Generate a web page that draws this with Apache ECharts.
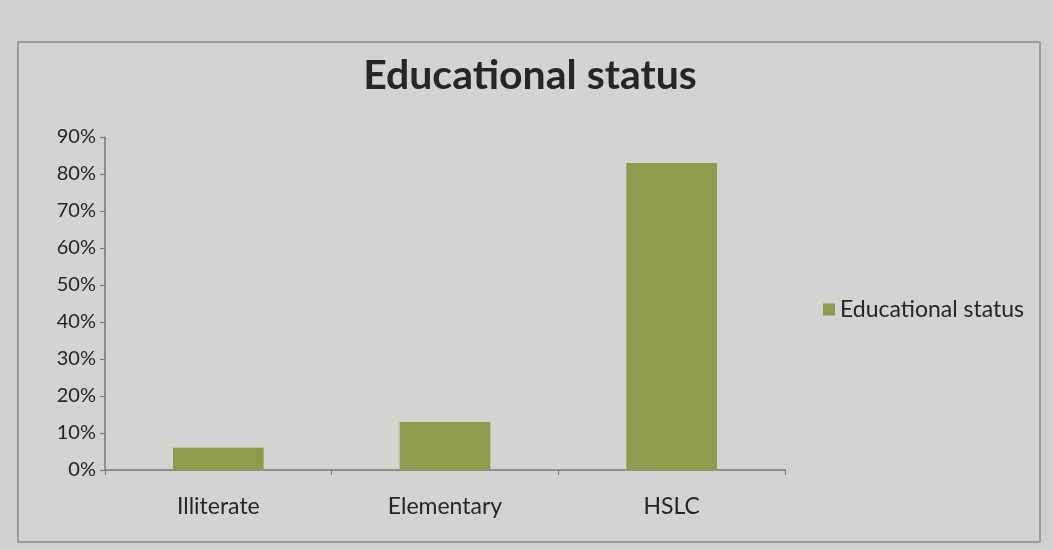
<!DOCTYPE html>
<html>
<head>
<meta charset="utf-8">
<script src="https://cdn.jsdelivr.net/npm/echarts@6/dist/echarts.min.js"></script>
<style>
  html, body { margin: 0; padding: 0; background: #cfcfcd; }
  #main { width: 1053px; height: 550px; }
</style>
</head>
<body>
<div id="main"></div>
<script>
var categories = ["Illiterate", "Elementary", "HSLC"];
var values = [6, 13, 83];
var seriesName = "Educational status";

var chart = echarts.init(document.getElementById("main"));
chart.setOption({
  backgroundColor: "#cfcfcd",
  textStyle: { fontFamily: "Lato" },
  graphic: [{
    type: "rect",
    shape: { x: 18, y: 42, width: 1022, height: 500 },
    style: { fill: "#d3d3d1", stroke: "#8a8a88", lineWidth: 1.5 },
    z: -10
  }],
  title: {
    text: "Educational status",
    left: 525,
    textAlign: "center",
    top: 50,
    textStyle: { fontSize: 41, fontWeight: "bold", color: "#262626" }
  },
  legend: {
    orient: "vertical",
    left: 818,
    top: 293,
    itemWidth: 12,
    itemHeight: 12,
    icon: "rect",
    textStyle: { fontSize: 23, color: "#262626" }
  },
  grid: { left: 105, right: 268, top: 137, bottom: 80 },
  xAxis: {
    type: "category",
    data: categories,
    axisLine: { lineStyle: { color: "#7a7a78", width: 1.5 } },
    axisTick: { show: true, alignWithLabel: false, length: 5, lineStyle: { color: "#7a7a78" } },
    axisLabel: { fontSize: 23, color: "#262626", margin: 25 }
  },
  yAxis: {
    type: "value",
    min: 0,
    max: 90,
    interval: 10,
    axisLine: { show: true, lineStyle: { color: "#7a7a78", width: 1.5 } },
    axisTick: { show: true, length: 5, lineStyle: { color: "#7a7a78" } },
    splitLine: { show: false },
    axisLabel: { fontSize: 20, color: "#262626", margin: 9, formatter: "{value}%" }
  },
  series: [{
    name: seriesName,
    type: "bar",
    data: values,
    barWidth: "40%",
    itemStyle: { color: "#8d9b4b" }
  }]
});
</script>
</body>
</html>
